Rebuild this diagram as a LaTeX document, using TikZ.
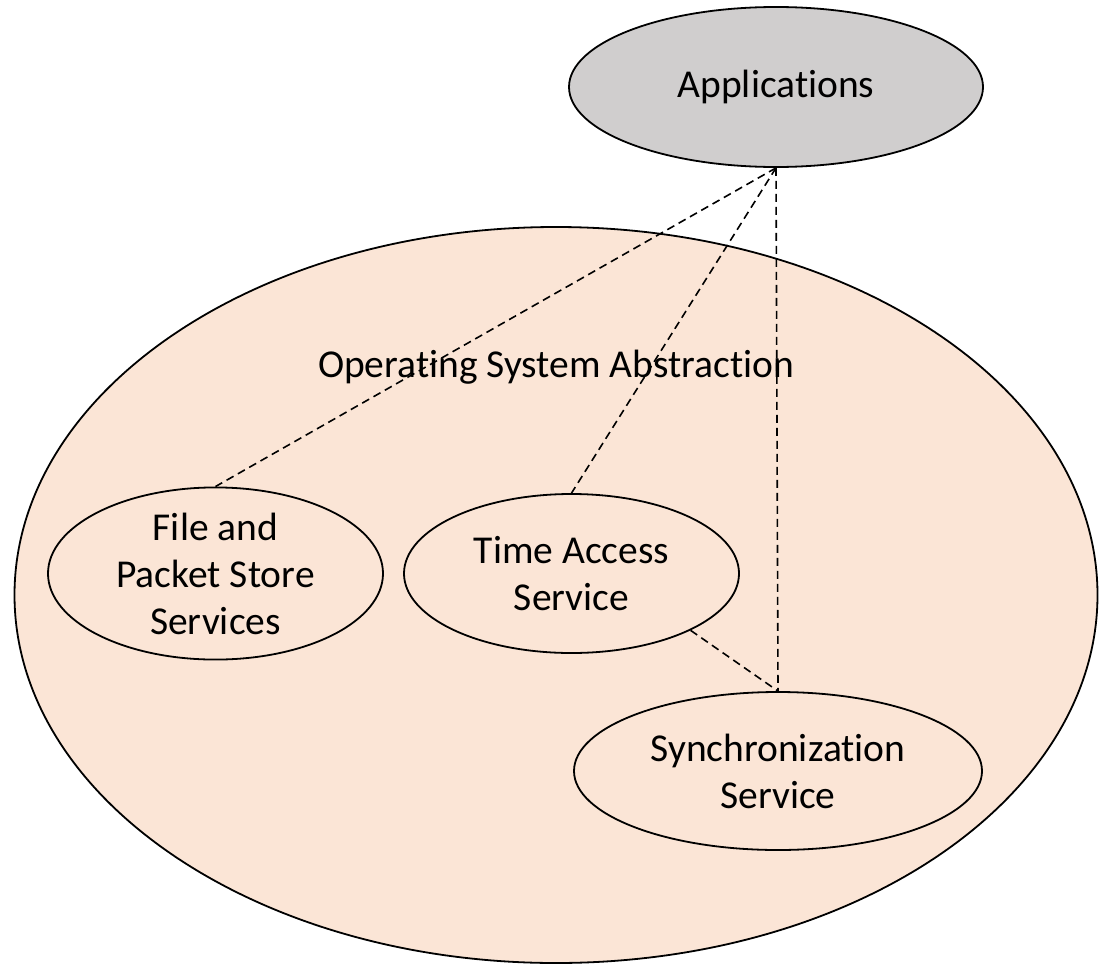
\documentclass[tikz,border=0pt]{standalone}
\usepackage{fontspec}
\setmainfont{Carlito}[Ligatures=CommonOff]
\usetikzlibrary{shapes.geometric}
\definecolor{peach}{HTML}{FBE5D6}
\definecolor{appgray}{HTML}{D0CECE}
\tikzset{
  oval/.style={ellipse, draw=black, line width=1.8pt, inner sep=0pt, align=center,
    font=\fontsize{39.5}{47}\selectfont},
  conn/.style={draw=black, line width=1.6pt, dash pattern=on 8pt off 5pt},
  lbl/.style={inner sep=0pt, font=\fontsize{39.5}{47}\selectfont}
}
\begin{document}
\begin{tikzpicture}[x=1pt,y=-1pt]
\useasboundingbox (0,0) rectangle (1103,964);
\node[oval, fill=peach, minimum width=1083pt, minimum height=736pt] (os) at (556,595) {};
\node[lbl, anchor=base] (oslbl) at (556,377) {Operating System Abstraction};
\node[oval, fill=appgray, minimum width=414pt, minimum height=160pt] (app) at (776,87) {Applications};
\node[oval, fill=peach, minimum width=335pt, minimum height=159pt] (fps) at (215.5,573.5) {File and\\Packet Store\\Services};
\node[oval, fill=peach, minimum width=335pt, minimum height=159pt] (tas) at (571.5,573.5) {Time Access\\Service};
\node[oval, fill=peach, minimum width=408pt, minimum height=158pt] (syn) at (778,771) {Synchronization\\Service};
\draw[conn] (app.south) -- (fps.north);
\draw[conn] (app.south) -- (tas.north);
\draw[conn] (app.south) -- (syn.north);
\draw[conn] (tas.south east) -- (syn.north);
\end{tikzpicture}
\end{document}
